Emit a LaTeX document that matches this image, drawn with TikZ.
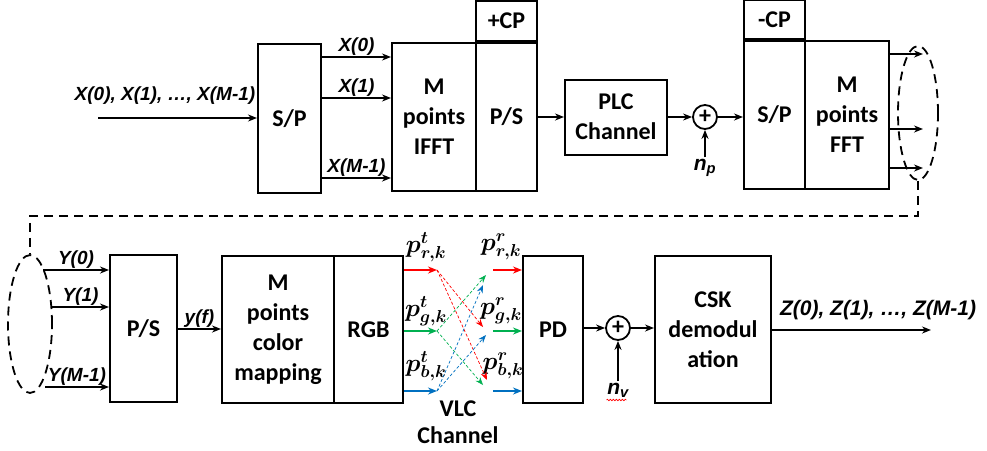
\documentclass[tikz,border=0pt]{standalone}
\usepackage{fontspec}
\usepackage{bm}
\setmainfont{Carlito}
\newfontfamily\labfont{Liberation Sans}
\usetikzlibrary{shapes.geometric,arrows.meta,decorations.pathmorphing}

\definecolor{ledred}{RGB}{255,0,0}
\definecolor{ledgreen}{RGB}{0,176,80}
\definecolor{ledblue}{RGB}{0,112,192}

\tikzset{
  blk/.style={draw, line width=2pt, inner sep=0pt, align=center,
    font=\bfseries\fontsize{24}{30}\selectfont},
  txt/.style={inner sep=0pt, align=center, font=\bfseries\fontsize{24}{27}\selectfont},
  lbl/.style={inner sep=1pt, font=\labfont\bfseries\itshape\fontsize{19}{22}\selectfont},
  mth/.style={inner sep=0pt, font=\fontsize{24}{27}\selectfont},
  summ/.style={draw, circle, line width=1.8pt, minimum size=24pt, inner sep=0pt,
    font=\bfseries\fontsize{24}{24}\selectfont},
  ell/.style={draw, ellipse, line width=1.8pt, dash pattern=on 9pt off 6pt, inner sep=0pt},
  dsh/.style={line width=1.8pt, dash pattern=on 9pt off 6pt},
  xline/.style={line width=0.7pt, dash pattern=on 3pt off 2pt, -{Stealth[length=8pt,width=6pt]}}
}

\begin{document}
\begin{tikzpicture}[x=1pt,y=-1pt,>={Stealth[length=9pt,width=7pt]},line width=1.6pt]
  \useasboundingbox (0,0) rectangle (987,450);

  % PLC part (OFDM)
  \node[blk, minimum width=63, minimum height=149] (sp1) at (289.5,118.5) {S/P};
  \node[blk, minimum width=84, minimum height=148] (ifft) at (434,117) {M\\points\\IFFT};
  \node[blk, minimum width=61, minimum height=148] (ps1) at (506.5,117) {P/S};
  \node[blk, minimum width=61, minimum height=40, anchor=south] (cp1) at (ps1.north) {+CP};
  \node[blk, minimum width=102, minimum height=75] (plc) at (616,117) {PLC\\Channel};
  \node[summ] (s1) at (705,117) {+};
  \node[blk, minimum width=61, minimum height=148] (sp2) at (774.5,115) {S/P};
  \node[blk, minimum width=61, minimum height=39, anchor=south] (cp2) at (sp2.north) {-CP};
  \node[blk, minimum width=84, minimum height=148] (fft) at (847,115) {M\\points\\FFT};
  \node[ell, minimum width=40, minimum height=134] (er) at (918,113) {};

  \coordinate (xs) at (98,118);
  \node[lbl, anchor=south] (xin) at (165,106) {X(0), X(1), \dots, X(M-1)};
  \draw[->] (xs) -- (sp1.west |- xs);
  \foreach \y/\t in {57/X(0), 98/X(1), 178/X(M-1)}
    \draw[->] (sp1.east |- 0,\y) -- (ifft.west |- 0,\y) node[lbl, midway, above] {\t};
  \draw[->] (ps1.east) -- (plc.west);
  \draw[->] (plc.east) -- (s1.west);
  \draw[->] (s1.east) -- (sp2.west |- s1.east);
  \node[lbl, font=\labfont\bfseries\itshape\fontsize{21}{22}\selectfont] (np) at (705,168) {n\textsubscript{p}};
  \draw[->] (np.north) -- (s1.south);
  \foreach \y in {54,129,168}
    \draw[->] (fft.east |- 0,\y) -- ++(33,0);

  % VLC part (CSK)
  \node[ell, minimum width=44, minimum height=138] (el) at (30,324) {};
  \draw[dsh] (er.south) -- (er.south |- 0,216) -| (el.north);
  \node[blk, minimum width=67, minimum height=147] (ps2) at (143.5,328.5) {P/S};
  \node[blk, minimum width=112, minimum height=147] (cmap) at (278,329.5) {M\\points\\color\\mapping};
  \node[blk, minimum width=69, minimum height=147] (rgb) at (368.5,329.5) {RGB};
  \node[blk, minimum width=60, minimum height=147] (pd) at (553,329.5) {PD};
  \node[summ] (s2) at (618,328) {+};
  \node[blk, minimum width=116, minimum height=147] (csk) at (713,329.5) {CSK\\demodul\\ation};

  \foreach \x/\y/\t in {43/270/Y(0), 52/307/Y(1), 45/387/Y(M-1)}
    \draw[->] (\x,\y) -- (ps2.west |- 0,\y) node[lbl, midway, above] {\t};
  \draw[->] (ps2.east |- 0,329) -- (cmap.west |- 0,329) node[lbl, midway, above] {y(f)};

  \foreach \c/\y/\s in {ledred/270/r, ledgreen/331/g, ledblue/391/b} {
    \draw[->, \c] (rgb.east |- 0,\y) -- ++(33,0) coordinate (t\s);
    \coordinate (r\s) at (493,\y);
    \draw[->, \c] (r\s) -- (pd.west |- r\s);
  }
  \node[mth] (ptr) at (426,247) {$\bm{p^{t}_{r,k}}$};
  \node[mth] (ptg) at (426,311) {$\bm{p^{t}_{g,k}}$};
  \node[mth] (ptb) at (426,366) {$\bm{p^{t}_{b,k}}$};
  \node[mth] (prr) at (501,247) {$\bm{p^{r}_{r,k}}$};
  \node[mth] (prg) at (501,311) {$\bm{p^{r}_{g,k}}$};
  \node[mth] (prb) at (503,366) {$\bm{p^{r}_{b,k}}$};

  % crossing paths in the VLC channel
  \draw[xline, ledred] (tr) -- (483,327);
  \draw[xline, ledred] (tr) -- (487,380);
  \draw[xline, ledgreen] (tg) -- (486,275);
  \draw[xline, ledgreen] (tg) -- (483,385);
  \draw[xline, ledblue] (tb) -- (483,285);
  \draw[xline, ledblue] (tb) -- (486,335);
  \node[txt] (vlc) at (458,422) {VLC\\Channel};

  \draw[->] (pd.east |- s2.west) -- (s2.west);
  \node[lbl, font=\labfont\bfseries\itshape\fontsize{21}{22}\selectfont] (nv) at (618,390) {n\textsubscript{v}};
  \draw[->] (nv.north) -- (s2.south);
  \draw[ledred, line width=0.6pt, decorate, decoration={snake, amplitude=0.8pt, segment length=3pt}]
    (nv.south west) ++(1,1) -- ++(20,0);
  \draw[->] (s2.east) -- (csk.west |- s2.east);
  \draw[->] (csk.east |- 0,330) -- ++(159,0) coordinate (zout);
  \node[lbl, font=\labfont\bfseries\itshape\fontsize{21}{22}\selectfont] (zlab) at (878,310) {Z(0), Z(1), \dots, Z(M-1)};
\end{tikzpicture}
\end{document}
